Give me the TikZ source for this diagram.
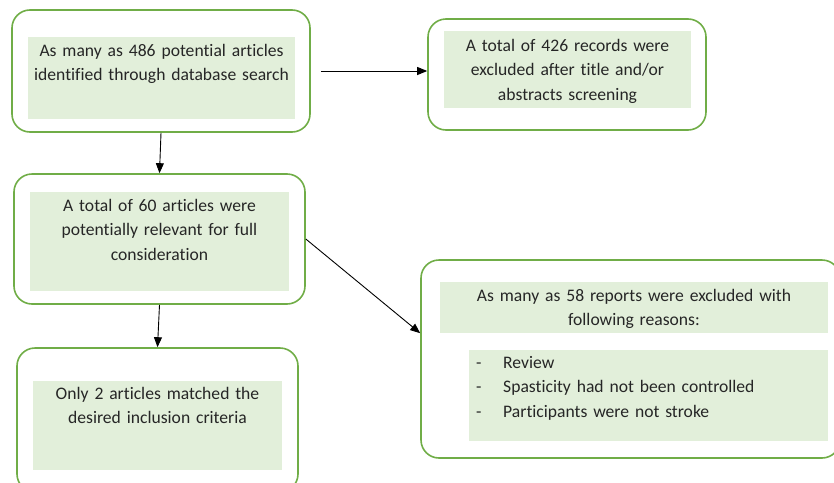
\documentclass[tikz,border=0pt]{standalone}
\usepackage{fontspec}
\setmainfont[Ligatures=NoCommon]{Carlito}
\usetikzlibrary{arrows.meta}
\definecolor{boxgreen}{HTML}{70AD47}
\definecolor{fillgreen}{HTML}{E2EFDA}
\definecolor{inkgray}{HTML}{262626}

\begin{document}
\begin{tikzpicture}
  [x=1pt,y=-1pt,
   outer/.style={draw=boxgreen,line width=1.6pt,rounded corners=18pt,inner sep=0pt},
   shade/.style={fill=fillgreen,inner sep=0pt},
   words/.style={text=inkgray,align=center,anchor=base,inner sep=0pt,
     font=\fontsize{17.6}{24.5}\selectfont},
   link/.style={-{Triangle[length=10pt,width=8pt]},line width=0.9pt}]
  \useasboundingbox (0,0) rectangle (834,482);
  \clip (0,0) rectangle (834,482);
  % outer boxes
  \node[outer,minimum width=298pt,minimum height=122pt] (boxa) at (161,71) {};
  \node[outer,minimum width=278pt,minimum height=111pt] (boxb) at (567,74.5) {};
  \node[outer,minimum width=291pt,minimum height=130pt] (boxc) at (159.5,239) {};
  \node[outer,minimum width=281pt,minimum height=144pt] (boxd) at (157.5,420) {};
  \node[outer,minimum width=419pt,minimum height=198pt] (boxe) at (630.5,359) {};
  % shaded areas
  \node[shade,minimum width=267pt,minimum height=82pt] (filla) at (161.5,78) {};
  \node[shade,minimum width=247pt,minimum height=77pt] (fillb) at (567.5,69.5) {};
  \node[shade,minimum width=259pt,minimum height=99pt] (fillc) at (159.5,241.5) {};
  \node[shade,minimum width=249pt,minimum height=89pt] (filld) at (157.5,425.5) {};
  \node[shade,minimum width=388pt,minimum height=51pt] (fillet) at (634,307.5) {};
  \node[shade,minimum width=359pt,minimum height=91pt] (filleb) at (648.5,395.5) {};
  % texts
  \node[words,text width=267pt] (texta) at (161.5,56.2)
    {As many as 486 potential articles\\identified through database search};
  \node[words,text width=247pt] (textb) at (567.5,51.2)
    {A total of 426 records were\\excluded after title and/or\\abstracts screening};
  \node[words,text width=259pt] (textc) at (159.5,211.2)
    {A total of 60 articles were\\potentially relevant for full\\consideration};
  \node[words,text width=249pt] (textd) at (157.5,399.2)
    {Only 2 articles matched the\\desired inclusion criteria};
  \node[words,text width=388pt] (textet) at (634,301.2)
    {As many as 58 reports were excluded with\\following reasons:};
  \node[words,text width=352pt,align=left,anchor=base west] (texteb) at (476,368.2)
    {\makebox[27pt][l]{-}Review\\
     \makebox[27pt][l]{-}Spasticity had not been controlled\\
     \makebox[27pt][l]{-}Participants were not stroke};
  % arrows
  \draw[link,shorten <=10pt] (boxa.east) -- (boxa.east -| boxb.west);
  \foreach \from/\to in {boxa/boxc,boxc/boxd}
    \draw[link] (\from.south) -- (\to.north);
  \draw[link] (boxc.east) -- (boxe.west |- fillet.south);
\end{tikzpicture}
\end{document}
